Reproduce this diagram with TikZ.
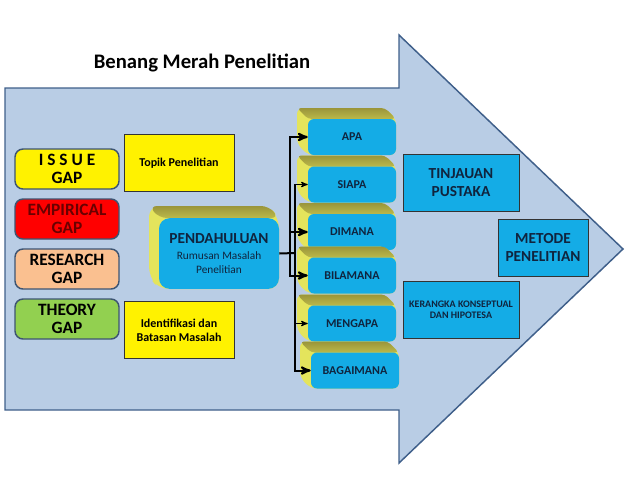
\documentclass[tikz,border=0pt]{standalone}
\usepackage{fontspec}
\setmainfont{Carlito}
\usetikzlibrary{arrows}
\definecolor{arrowfill}{HTML}{B9CDE5}
\definecolor{arrowline}{HTML}{3F5F8A}
\definecolor{skyb}{HTML}{14ACE6}
\definecolor{navy}{HTML}{10243E}
\definecolor{gapline}{HTML}{3E5573}
\definecolor{olive}{HTML}{9A953A}
\definecolor{lemon}{HTML}{E4E45C}
\definecolor{peach}{HTML}{FAC090}
\definecolor{leaf}{HTML}{92D050}
\definecolor{darkred}{HTML}{6A0000}

\begin{document}
\begin{tikzpicture}[x=0.75pt,y=-0.75pt,
 gapbox/.style={draw=gapline, line width=1.1pt, rounded corners=6pt, minimum width=78pt, minimum height=30pt, inner sep=0, align=center, font=\bfseries\fontsize{13}{13.5}\selectfont},
 notebox/.style={draw=black!80, fill=yellow, minimum width=82.5pt, minimum height=43pt, inner sep=0, align=center, font=\bfseries\fontsize{9}{10.5}\selectfont},
 stackbox/.style={fill=skyb, rounded corners=4.5pt, minimum width=66pt, minimum height=27pt, inner sep=0, text=navy, font=\bfseries\fontsize{9}{10}\selectfont},
 bluebox/.style={draw=black!80, fill=skyb, minimum height=42.75pt, inner sep=0, align=center, text=navy, font=\bfseries\fontsize{11.5}{14}\selectfont},
 topface/.style={top color=olive, bottom color=olive!55!lemon},
 link/.style={black, line width=1.5pt, ->, >=stealth'},
 thinlink/.style={black, line width=0.8pt, ->, >=stealth'}]
\useasboundingbox (0,0) rectangle (638,479);

% big arrow
\draw[fill=arrowfill, draw=arrowline, line width=1.1pt] (5,88) -- (399,88) -- (399,35) -- (623,249) -- (399,463) -- (399,410) -- (5,410) -- cycle;
\node (title) at (202,63) {\bfseries\fontsize{15.5}{18}\selectfont Benang Merah Penelitian};

% gaps
\node[gapbox, fill=yellow] (issue) at (67,169) {I S S U E\\GAP};
\node[gapbox, fill=red, text=darkred] (empirical) at (67,219) {EMPIRICAL\\GAP};
\node[gapbox, fill=peach] (research) at (67,269) {RESEARCH\\GAP};
\node[gapbox, fill=leaf] (theory) at (67,319) {THEORY\\GAP};

\node[notebox] (topik) at (179,163) {Topik Penelitian};
\node[notebox] (identifikasi) at (179,330) {Identifikasi dan\\Batasan Masalah};

% pendahuluan
\begin{scope}[shift={(219,253.5)}]
 \fill[lemon, rounded corners=8pt] (-70,-47.5) -- (50,-47.5) -- (60,-35.5) -- (60,35.5) -- (-60,35.5) -- (-70,23.5) -- cycle;
 \path[topface, rounded corners=6pt] (-70,-47.5) -- (50,-47.5) -- (60,-35.5) -- (-60,-35.5) -- cycle;
\end{scope}
\node[fill=skyb, rounded corners=8pt, minimum width=90pt, minimum height=53pt, inner sep=0, align=center, text=navy, font=\fontsize{8.5}{10.5}\selectfont] (pend) at (219,253.5)
 {\bfseries\fontsize{11.5}{13}\selectfont PENDAHULUAN\\[1pt]Rumusan Masalah\\Penelitian};

% stack of questions
\foreach \lbl/\x/\y in {APA/352/137, SIAPA/352/184.5, DIMANA/352/232, BILAMANA/352/275.5, MENGAPA/352/323.5, BAGAIMANA/355/370.5} {
 \begin{scope}[shift={(\x,\y)}]
  \fill[lemon, rounded corners=4.5pt] (-55,-29) -- (33,-29) -- (44,-18) -- (44,18) -- (-44,18) -- (-55,7) -- cycle;
  \path[topface, rounded corners=3pt] (-55,-29) -- (33,-29) -- (44,-18) -- (-44,-18) -- cycle;
 \end{scope}
 \node[stackbox] (\lbl) at (\x,\y) {\lbl};
}

% connectors
\coordinate (jA) at (290,253);
\coordinate (jB) at (295,253);
\draw[black, line width=1.5pt] (pend.east) -- (jB);
\draw[link] (jA) |- (APA.west);
\draw[link] (jA) |- (DIMANA.west);
\draw[link] (jA) |- (BILAMANA.west);
\draw[thinlink] (jB) |- (SIAPA.west);
\draw[thinlink] (jB) |- (MENGAPA.west);
\draw[link] (jB) |- (BAGAIMANA.west);

% right side
\node[bluebox, minimum width=87pt] (tinjauan) at (461,182.5) {TINJAUAN\\PUSTAKA};
\node[bluebox, minimum width=67.5pt] (metode) at (543,247.5) {METODE\\PENELITIAN};
\node[bluebox, minimum width=87pt, font=\bfseries\fontsize{7.5}{8.3}\selectfont] (kerangka) at (461,310) {KERANGKA KONSEPTUAL\\DAN HIPOTESA};
\end{tikzpicture}
\end{document}
